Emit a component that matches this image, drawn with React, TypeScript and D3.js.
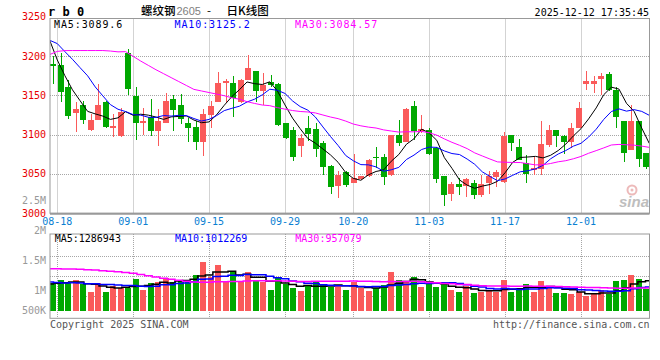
import React from "react";
import * as d3 from "d3";

// trading days on screen (08-15 .. 12-12)
const dates = [
  "08-15", "08-18", "08-19", "08-20", "08-21", "08-22", "08-25", "08-26", "08-27", "08-28",
  "08-29", "09-01", "09-02", "09-03", "09-04", "09-05", "09-08", "09-09", "09-10", "09-11",
  "09-12", "09-15", "09-16", "09-17", "09-18", "09-19", "09-22", "09-23", "09-24", "09-25",
  "09-26", "09-29", "09-30", "10-09", "10-10", "10-13", "10-14", "10-15", "10-16", "10-17",
  "10-20", "10-21", "10-22", "10-23", "10-24", "10-27", "10-28", "10-29", "10-30", "10-31",
  "11-03", "11-04", "11-05", "11-06", "11-07", "11-10", "11-11", "11-12", "11-13", "11-14",
  "11-17", "11-18", "11-19", "11-20", "11-21", "11-24", "11-25", "11-26", "11-27", "11-28",
  "12-01", "12-02", "12-03", "12-04", "12-05", "12-08", "12-09", "12-10", "12-11", "12-12",
];

const opens = [
  3190, 3189, 3160, 3128, 3138, 3106, 3119, 3142, 3109, 3098,
  3204, 3149, 3115, 3122, 3105, 3115, 3145, 3138, 3115, 3110,
  3091, 3125, 3142, 3166, 3166, 3142, 3170, 3181, 3155, 3167,
  3165, 3115, 3106, 3086, 3109, 3107, 3090, 3060, 3035, 3052,
  3039, 3044, 3047, 3071, 3072, 3049, 3100, 3091, 3137, 3105,
  3106, 3083, 3047, 3025, 3037, 3035, 3039, 3023, 3039, 3046,
  3040, 3100, 3084, 3064, 3055, 3056, 3087, 3106, 3098, 3091,
  3109, 3165, 3165, 3171, 3177, 3157, 3117, 3081, 3117, 3077,
];
const highs = [
  3200, 3204, 3170, 3141, 3143, 3126, 3165, 3143, 3126, 3134,
  3209, 3160, 3134, 3145, 3132, 3153, 3151, 3152, 3121, 3117,
  3132, 3143, 3180, 3171, 3175, 3171, 3201, 3181, 3178, 3176,
  3166, 3115, 3110, 3101, 3124, 3115, 3092, 3062, 3054, 3054,
  3075, 3048, 3069, 3084, 3076, 3100, 3119, 3134, 3143, 3125,
  3108, 3084, 3047, 3040, 3045, 3045, 3042, 3049, 3054, 3055,
  3104, 3100, 3095, 3074, 3072, 3117, 3112, 3106, 3100, 3115,
  3142, 3181, 3174, 3178, 3180, 3161, 3117, 3138, 3117, 3077,
];
const lows = [
  3165, 3141, 3120, 3103, 3114, 3105, 3119, 3109, 3097, 3097,
  3151, 3093, 3100, 3098, 3086, 3115, 3105, 3114, 3091, 3081,
  3073, 3109, 3142, 3140, 3122, 3140, 3170, 3142, 3138, 3161,
  3111, 3095, 3067, 3071, 3092, 3072, 3049, 3025, 3020, 3034,
  3038, 3042, 3046, 3057, 3036, 3048, 3086, 3091, 3093, 3102,
  3074, 3039, 3009, 3016, 3023, 3021, 3018, 3021, 3025, 3034,
  3039, 3079, 3068, 3039, 3049, 3049, 3084, 3084, 3076, 3083,
  3108, 3157, 3153, 3151, 3155, 3109, 3065, 3081, 3059, 3056,
];
const closes = [
  3187, 3154, 3124, 3132, 3119, 3119, 3138, 3110, 3111, 3129,
  3158, 3115, 3117, 3105, 3117, 3143, 3131, 3120, 3108, 3091,
  3126, 3136, 3166, 3168, 3146, 3170, 3185, 3155, 3163, 3163,
  3112, 3096, 3071, 3096, 3101, 3082, 3059, 3033, 3049, 3036,
  3045, 3047, 3068, 3070, 3046, 3100, 3090, 3133, 3105, 3107,
  3076, 3043, 3023, 3037, 3033, 3043, 3023, 3037, 3047, 3053,
  3098, 3089, 3068, 3050, 3057, 3088, 3106, 3098, 3091, 3109,
  3134, 3168, 3168, 3175, 3157, 3122, 3077, 3117, 3069, 3059,
];
const volumes = [
  1173000, 1316000, 1216000, 1316000, 1130000, 815000, 1201000, 815000, 1058000, 987000,
  958000, 1359000, 887000, 1201000, 1244000, 1416000, 1216000, 1316000, 1273000, 1530000,
  2102000, 1459000, 1959000, 1244000, 1702000, 1273000, 1659000, 1273000, 1244000, 887000,
  1387000, 1130000, 987000, 844000, 1058000, 1216000, 1144000, 1030000, 1058000, 887000,
  1216000, 958000, 844000, 958000, 1101000, 1659000, 1316000, 1216000, 1444000, 1015000,
  1173000, 1030000, 1130000, 887000, 815000, 1058000, 758000, 815000, 858000, 815000,
  1316000, 815000, 930000, 1144000, 815000, 1273000, 1015000, 758000, 758000, 715000,
  787000, 644000, 758000, 887000, 715000, 1273000, 1316000, 1530000, 1359000, 930000,
];

// the 29 sessions before 08-15, only used to start the moving averages
const prevCloses = [
  3034, 3094, 3130, 3119, 3119, 3138, 3110, 3130, 3160, 3150,
  3295, 3297, 3270, 3282, 3293, 3281, 3270, 3258, 3241, 3186,
  3196, 3226, 3230, 3225, 3223, 3279, 3224, 3222, 3188,
];
const prevVolumes = [
  1300000, 1350000, 1400000, 1450000, 1500000, 1550000, 1600000, 1700000, 1800000, 1902000,
  2200000, 2500000, 2800000, 3000000, 2900000, 2700000, 2600000, 2500000, 2468000, 2400000,
  1500000, 1400000, 1300000, 1200000, 1175000, 1150000, 1100000, 1150000, 1150000,
];

const priceTicks = [3250, 3200, 3150, 3100, 3050, 3000];
const priceGrid = [3200, 3150, 3100, 3050];
const dateTicks = ["08-18", "09-01", "09-15", "09-29", "10-20", "11-03", "11-17", "12-01"];
const volTicks = [2500000, 2000000, 1500000, 1000000, 500000];
const volTickLabels = ["2.5M", "2M", "1.5M", "1M", "500K"];

const maPeriods = [5, 10, 30];
const maColors = ["#000000", "#0000ff", "#ff00ff"];
const priceMaText = ["MA5:3089.6", "MA10:3125.2", "MA30:3084.57"];
const volMaText = ["MA5:1286943", "MA10:1012269", "MA30:957079"];

const RED = "#fa5a5a";
const GREEN = "#00a800";
const GRID = "#a6a6a6";
const FRAME = "#999999";
const MONO = "'DejaVu Sans Mono', monospace";
const CJK = "'Noto Sans CJK SC', sans-serif";

const plotL = 50;
const plotR = 649.5;
const priceTop = 18.5;
const priceBottom = 213.3;
const volTop = 234;
const volBottom = 318.3;

function movingAverage(prev: number[], vals: number[], n: number) {
  const all = prev.concat(vals);
  const off = prev.length;
  return vals.map((_, i) => d3.mean(all.slice(off + i - n + 1, off + i + 1)) as number);
}

export default function App() {
  const xBand = d3.scaleBand<string>().domain(dates).range([49.5, 650]).paddingInner(0.2).paddingOuter(0.1);
  const xPoint = d3.scalePoint<string>().domain(dates).range([49.7, 649.3]);
  const yPrice = d3.scaleLinear().domain([3000, 3250]).range([213.3, 16.7]);
  const yVol = d3.scaleLinear().domain([0, 3300000]).range([310.7, 233.8]);
  // sina puts the volume labels on its own spacing
  const yVolLabel = d3.scaleLinear().domain([1000000, 2500000]).range([290.7, 200.7]);
  const volRows = d3.scaleLinear().domain([0, 4]).range([235.7, 315.7]);

  const bw = Math.round(xBand.bandwidth());
  const crisp = (v: number) => Math.round(v) + 0.5;

  const priceMA = maPeriods.map((n) => movingAverage(prevCloses, closes, n));
  const volMA = maPeriods.map((n) => movingAverage(prevVolumes, volumes, n));

  const priceLine = d3
    .line<number>()
    .x((_, i) => xPoint(dates[i])!)
    .y((v) => yPrice(v));
  const volLine = d3
    .line<number>()
    .x((_, i) => xPoint(dates[i])!)
    .y((v) => yVol(v))
    .curve(d3.curveStep);

  const vGrid = (y1: number, y2: number, key: string) =>
    dateTicks.map((d) => (
      <line
        key={key + d}
        x1={crisp(xPoint(d)!)}
        x2={crisp(xPoint(d)!)}
        y1={y1}
        y2={y2}
        stroke={GRID}
        strokeDasharray="1,1"
      />
    ));

  return (
    <>
      <style>{"body{margin:0}"}</style>
      <svg width={660} height={360} style={{ display: "block", background: "#fff" }}>
        <defs>
          <clipPath id="priceClip">
            <rect x={plotL} y={priceTop} width={plotR - plotL} height={priceBottom - priceTop} />
          </clipPath>
          <clipPath id="volClip">
            <rect x={plotL} y={volTop} width={plotR - plotL} height={volBottom - volTop} />
          </clipPath>
        </defs>

        {/* grid */}
        {priceGrid.map((v) => (
          <line
            key={"hg" + v}
            x1={plotL}
            x2={plotR}
            y1={crisp(yPrice(v))}
            y2={crisp(yPrice(v))}
            stroke={GRID}
            strokeDasharray="1,1"
          />
        ))}
        {vGrid(priceTop, priceBottom, "pg")}
        {[1, 2, 3].map((k) => (
          <line
            key={"vr" + k}
            x1={plotL}
            x2={plotR}
            y1={crisp(volRows(k))}
            y2={crisp(volRows(k))}
            stroke={GRID}
            strokeDasharray="1,1"
          />
        ))}
        {vGrid(volTop, volBottom, "vg")}

        {/* sina watermark */}
        <g opacity={0.75}>
          <circle cx={632} cy={190} r={4.5} fill="none" stroke="#e7a3a3" strokeWidth={2} />
          <circle cx={632} cy={190} r={1.5} fill="#e7a3a3" />
          <text x={619} y={207} fontFamily="'Liberation Sans', Arial" fontStyle="italic" fontWeight="bold" fontSize={15} fill="#a9a9a9">
            sina
          </text>
        </g>

        {/* candles */}
        <g clipPath="url(#priceClip)" shapeRendering="crispEdges">
          {dates.map((d, i) => {
            const up = closes[i] >= opens[i];
            const col = up ? RED : GREEN;
            const x0 = Math.round(xBand(d)!);
            const yT = Math.round(yPrice(Math.max(opens[i], closes[i])));
            const yB = Math.round(yPrice(Math.min(opens[i], closes[i])));
            const yH = Math.round(yPrice(highs[i]));
            const yL = Math.round(yPrice(lows[i]));
            return (
              <g key={d}>
                <rect x={x0 + 3} y={yH} width={1} height={Math.max(1, yL - yH)} fill={col} />
                <rect x={x0} y={yT} width={bw} height={Math.max(1, yB - yT)} fill={col} />
              </g>
            );
          })}
        </g>
        <g clipPath="url(#priceClip)">
          {priceMA.map((ma, k) => (
            <path key={"pma" + k} d={priceLine(ma)!} fill="none" stroke={maColors[k]} strokeWidth={1} />
          ))}
        </g>

        {/* volume */}
        <g clipPath="url(#volClip)" shapeRendering="crispEdges">
          {dates.map((d, i) => {
            const up = closes[i] >= opens[i];
            const x0 = Math.round(xBand(d)!);
            const yT = Math.round(yVol(volumes[i]));
            const y0 = Math.round(yVol(0));
            return <rect key={"v" + d} x={x0} y={yT} width={bw} height={y0 - yT} fill={up ? RED : GREEN} />;
          })}
        </g>
        <g clipPath="url(#volClip)">
          {volMA.map((ma, k) => (
            <path key={"vma" + k} d={volLine(ma)!} fill="none" stroke={maColors[k]} strokeWidth={1.5} />
          ))}
        </g>

        {/* frames */}
        <rect x={plotL} y={priceTop} width={plotR - plotL} height={priceBottom - priceTop} fill="none" stroke={FRAME} />
        <line x1={plotL} x2={plotR} y1={priceBottom + 0.5} y2={priceBottom + 0.5} stroke={FRAME} strokeWidth={2} />
        <rect x={plotL} y={volTop} width={plotR - plotL} height={volBottom - volTop} fill="none" stroke={FRAME} />

        {/* header */}
        <text x={48} y={15.5} fontFamily={MONO} fontWeight="bold" fontSize={12} fill="#000">
          r b 0
        </text>
        <text x={141} y={14.5} fontFamily={CJK} fontSize={11.5} fontWeight={500} fill="#000">
          螺纹钢
        </text>
        <text x={176.5} y={14.5} fontFamily="'Liberation Sans', Arial" fontSize={11} fill="#808080">
          2605
        </text>
        <text x={207} y={14.5} fontFamily={CJK} fontSize={11.5} fill="#000">
          -
        </text>
        <text x={226.5} y={14.5} fontFamily={CJK} fontSize={11.5} fontWeight={500} fill="#000">
          日K线图
        </text>
        <text x={649} y={12} dominantBaseline="central" textAnchor="end" fontFamily={MONO} fontSize={10} fill="#000">
          2025-12-12 17:35:45
        </text>

        {/* price axis */}
        {priceTicks.map((v) => (
          <text
            key={"pt" + v}
            x={46}
            y={yPrice(v)}
            dominantBaseline="central"
            textAnchor="end"
            fontFamily={MONO}
            fontSize={10}
            fill="#e80000"
          >
            {v}
          </text>
        ))}
        {priceMaText.map((t, k) => (
          <text
            key={"pl" + k}
            x={54 + k * 120.5}
            y={24}
            dominantBaseline="central"
            fontFamily={MONO}
            fontSize={10}
            letterSpacing={0.9}
            fill={maColors[k]}
          >
            {t}
          </text>
        ))}

        {/* date axis */}
        {dateTicks.map((d) => (
          <text
            key={"dt" + d}
            x={xPoint(d)!}
            y={221}
            dominantBaseline="central"
            textAnchor="middle"
            fontFamily={MONO}
            fontSize={10}
            fill="#0a80d2"
          >
            {d}
          </text>
        ))}

        {/* volume axis */}
        {volTicks.map((v, k) => (
          <text
            key={"vt" + v}
            x={46}
            y={Math.min(yVolLabel(v), yVol(0))}
            dominantBaseline="central"
            textAnchor="end"
            fontFamily={MONO}
            fontSize={10}
            fill="#999999"
          >
            {volTickLabels[k]}
          </text>
        ))}
        {volMaText.map((t, k) => (
          <text
            key={"vl" + k}
            x={54.7 + k * 120.3}
            y={238.5}
            dominantBaseline="central"
            fontFamily={MONO}
            fontSize={10}
            fill={maColors[k]}
          >
            {t}
          </text>
        ))}

        {/* footer */}
        <text x={50} y={324} dominantBaseline="central" fontFamily={MONO} fontSize={10} fill="#555">
          Copyright 2025 SINA.COM
        </text>
        <text x={649.5} y={324} dominantBaseline="central" textAnchor="end" fontFamily={MONO} fontSize={10} fill="#555">
          http://finance.sina.com.cn
        </text>
      </svg>
    </>
  );
}
